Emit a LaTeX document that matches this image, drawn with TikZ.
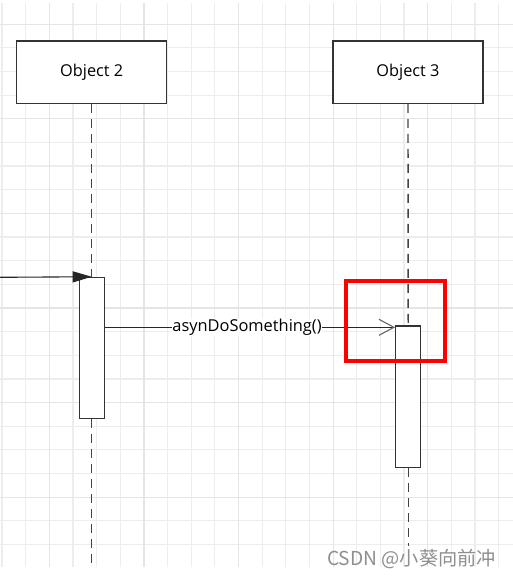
\documentclass[tikz,border=0pt]{standalone}
\usepackage{fontspec}
\setmainfont{Open Sans}
\newfontfamily\cjkfont{Noto Sans CJK SC}
\usetikzlibrary{arrows.meta}
\definecolor{gridminor}{HTML}{EDEDED}
\definecolor{gridmajor}{HTML}{E5E5E5}
\definecolor{edgecol}{HTML}{333333}
\definecolor{lifecol}{HTML}{444444}
\definecolor{wmcol}{HTML}{8F8F8F}
\definecolor{tipcol}{HTML}{666666}
\begin{document}
\begin{tikzpicture}[x=1pt,y=-1pt,
  objbox/.style={draw=edgecol, line width=1.2pt, fill=white, minimum width=150pt, minimum height=62.3pt, inner sep=0pt, font=\fontsize{16.3}{19}\selectfont},
  actbox/.style={draw=edgecol, line width=1.1pt, fill=white, minimum width=25pt, inner sep=0pt},
  lifeline/.style={draw=lifecol, line width=1.4pt, dash pattern=on 9pt off 6pt},
  msg/.style={draw=black!85, line width=1.1pt},
  gline/.style={line width=1.2pt}
]
\fill[white] (0,0) rectangle (513,581);
\useasboundingbox (0,0) rectangle (513,581);
% grid
\foreach \k in {0,...,21} {
  \pgfmathsetmacro\xx{2+23.65*\k}
  \draw[gline, gridminor] (\xx,3) -- (\xx,567);
}
\foreach \k in {1,...,23} {
  \pgfmathsetmacro\yy{0.5+23.65*\k}
  \draw[gline, gridminor] (0,\yy) -- (513,\yy);
}
\foreach \k in {2,6,10,14,18} {
  \pgfmathsetmacro\xx{2+23.65*\k}
  \draw[gline, gridmajor] (\xx,3) -- (\xx,567);
}
\foreach \k in {1,5,9,13,17,21} {
  \pgfmathsetmacro\yy{0.5+23.65*\k}
  \draw[gline, gridmajor] (0,\yy) -- (513,\yy);
}
% objects
\node[objbox] (obj2) at (91.7,72.2) {\raisebox{-1.5pt}{Object 2}};
\node[objbox] (obj3) at (408,72.2) {\raisebox{-1.5pt}{Object 3}};
% activation boxes
\node[actbox, minimum height=141pt] (act2) at (91.7,347.8) {};
\node[actbox, minimum height=141.5pt] (act3) at (408.2,396.75) {};
% lifeline ends
\coordinate (end2) at (91.7,566);
\coordinate (end3) at (408.2,546);
\draw[lifeline] (obj2.south) -- (act2.north);
\draw[lifeline] (act2.south) -- (end2);
\draw[lifeline] (obj3.south) -- (act3.north);
\draw[lifeline] (act3.south) -- (end3);
% incoming message
\coordinate (in0) at (0,277.3);
\draw[msg, -{Triangle[length=19pt,width=11pt]}] (in0) -- (act2.north);
% async message
\coordinate (m) at (0,327.3);
\draw[msg, -{Straight Barb[length=15pt,width=16pt,color=tipcol]}] (act2.east |- m) -- (act3.west |- m)
  node[pos=0.49, fill=white, inner sep=0.5pt, font=\fontsize{16.4}{19}\selectfont] (lbl) {asynDoSomething()};
% highlight
\node[draw=red, line width=4pt, minimum width=99.1pt, minimum height=80.8pt, inner sep=0pt] (hl) at (395.75,320.9) {};
% watermark
\node[anchor=base west, text=wmcol, font=\cjkfont\fontsize{19.2}{22}\selectfont, inner sep=0pt] (wm) at (327,565) {CSDN @小葵向前冲};
\end{tikzpicture}
\end{document}
